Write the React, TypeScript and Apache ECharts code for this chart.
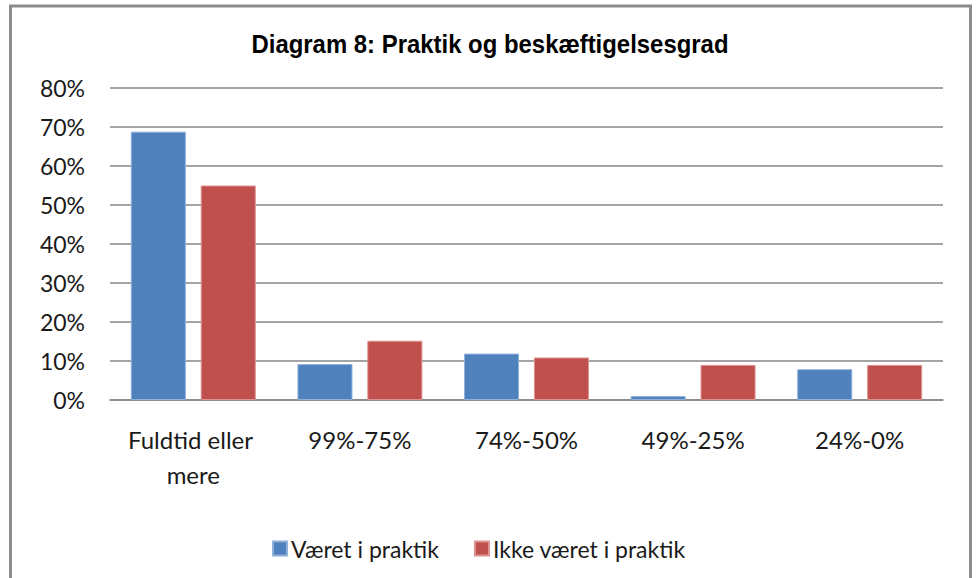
import React, { useEffect, useRef } from "react";
import * as echarts from "echarts";

const categories = ["Fuldtid eller mere", "99%-75%", "74%-50%", "49%-25%", "24%-0%"];
const seriesNames = ["Været i praktik", "Ikke været i praktik"];
const vaeretIPraktik = [68.8, 9.2, 11.9, 1.0, 7.9];
const ikkeVaeretIPraktik = [55.0, 15.2, 10.9, 9.0, 9.0];
const titleText = "Diagram 8: Praktik og beskæftigelsesgrad";

export default function App() {
  const ref = useRef<HTMLDivElement>(null);
  useEffect(() => {
    if (!ref.current) return;
    const chart = echarts.init(ref.current, null, { renderer: "svg" });
    const textColor = "#1a1a1a";
    chart.setOption({
      animation: false,
      backgroundColor: "#ffffff",
      graphic: [
        {
          type: "rect",
          shape: { x: 10.5, y: 6, width: 960, height: 620 },
          style: { fill: "none", stroke: "#8c8c8c", lineWidth: 3 },
          silent: true,
        },
        {
          type: "text",
          x: 490,
          y: 44,
          scaleX: 0.92,
          silent: true,
          style: {
            text: titleText,
            x: 0,
            y: 0,
            align: "center",
            verticalAlign: "middle",
            fontFamily: "'Liberation Sans', Arial, sans-serif",
            fontWeight: "bold",
            fontSize: 26,
            fill: "#000000",
          },
        },
      ],
      legend: {
        data: seriesNames,
        left: 267,
        top: 532,
        itemWidth: 14,
        itemHeight: 14,
        itemGap: 35,
        icon: "rect",
        textStyle: { fontFamily: "Lato, sans-serif", fontSize: 23, color: textColor, padding: [0, 0, 0, -1] },
      },
      grid: { left: 110, right: 34, top: 88, bottom: 178, containLabel: false },
      xAxis: {
        type: "category",
        data: categories,
        axisLine: { show: true, lineStyle: { color: "#868686", width: 1.5 } },
        axisTick: { show: false },
        axisLabel: {
          interval: 0,
          margin: 22,
          fontFamily: "Lato, sans-serif",
          fontSize: 24,
          color: textColor,
          lineHeight: 35,
          width: 150,
          overflow: "break",
        },
      },
      yAxis: {
        type: "value",
        min: 0,
        max: 80,
        interval: 10,
        axisLine: { show: false },
        axisTick: { show: false },
        splitLine: { lineStyle: { color: "#868686", width: 1.5 } },
        axisLabel: {
          formatter: "{value}%",
          margin: 25,
          fontFamily: "Lato, sans-serif",
          fontSize: 23,
          color: textColor,
        },
      },
      series: [
        {
          name: seriesNames[0],
          type: "bar",
          data: vaeretIPraktik,
          barGap: "27%",
          barCategoryGap: "25%",
          itemStyle: { color: "#4F81BD", borderColor: "#8fb0d9", borderWidth: 1 },
        },
        {
          name: seriesNames[1],
          type: "bar",
          data: ikkeVaeretIPraktik,
          itemStyle: { color: "#C0504D", borderColor: "#dc9391", borderWidth: 1 },
        },
      ],
    });
    return () => chart.dispose();
  }, []);
  return (
    <div
      ref={ref}
      style={{ position: "absolute", left: 0, top: 0, width: 977, height: 578, background: "#fff" }}
    />
  );
}
